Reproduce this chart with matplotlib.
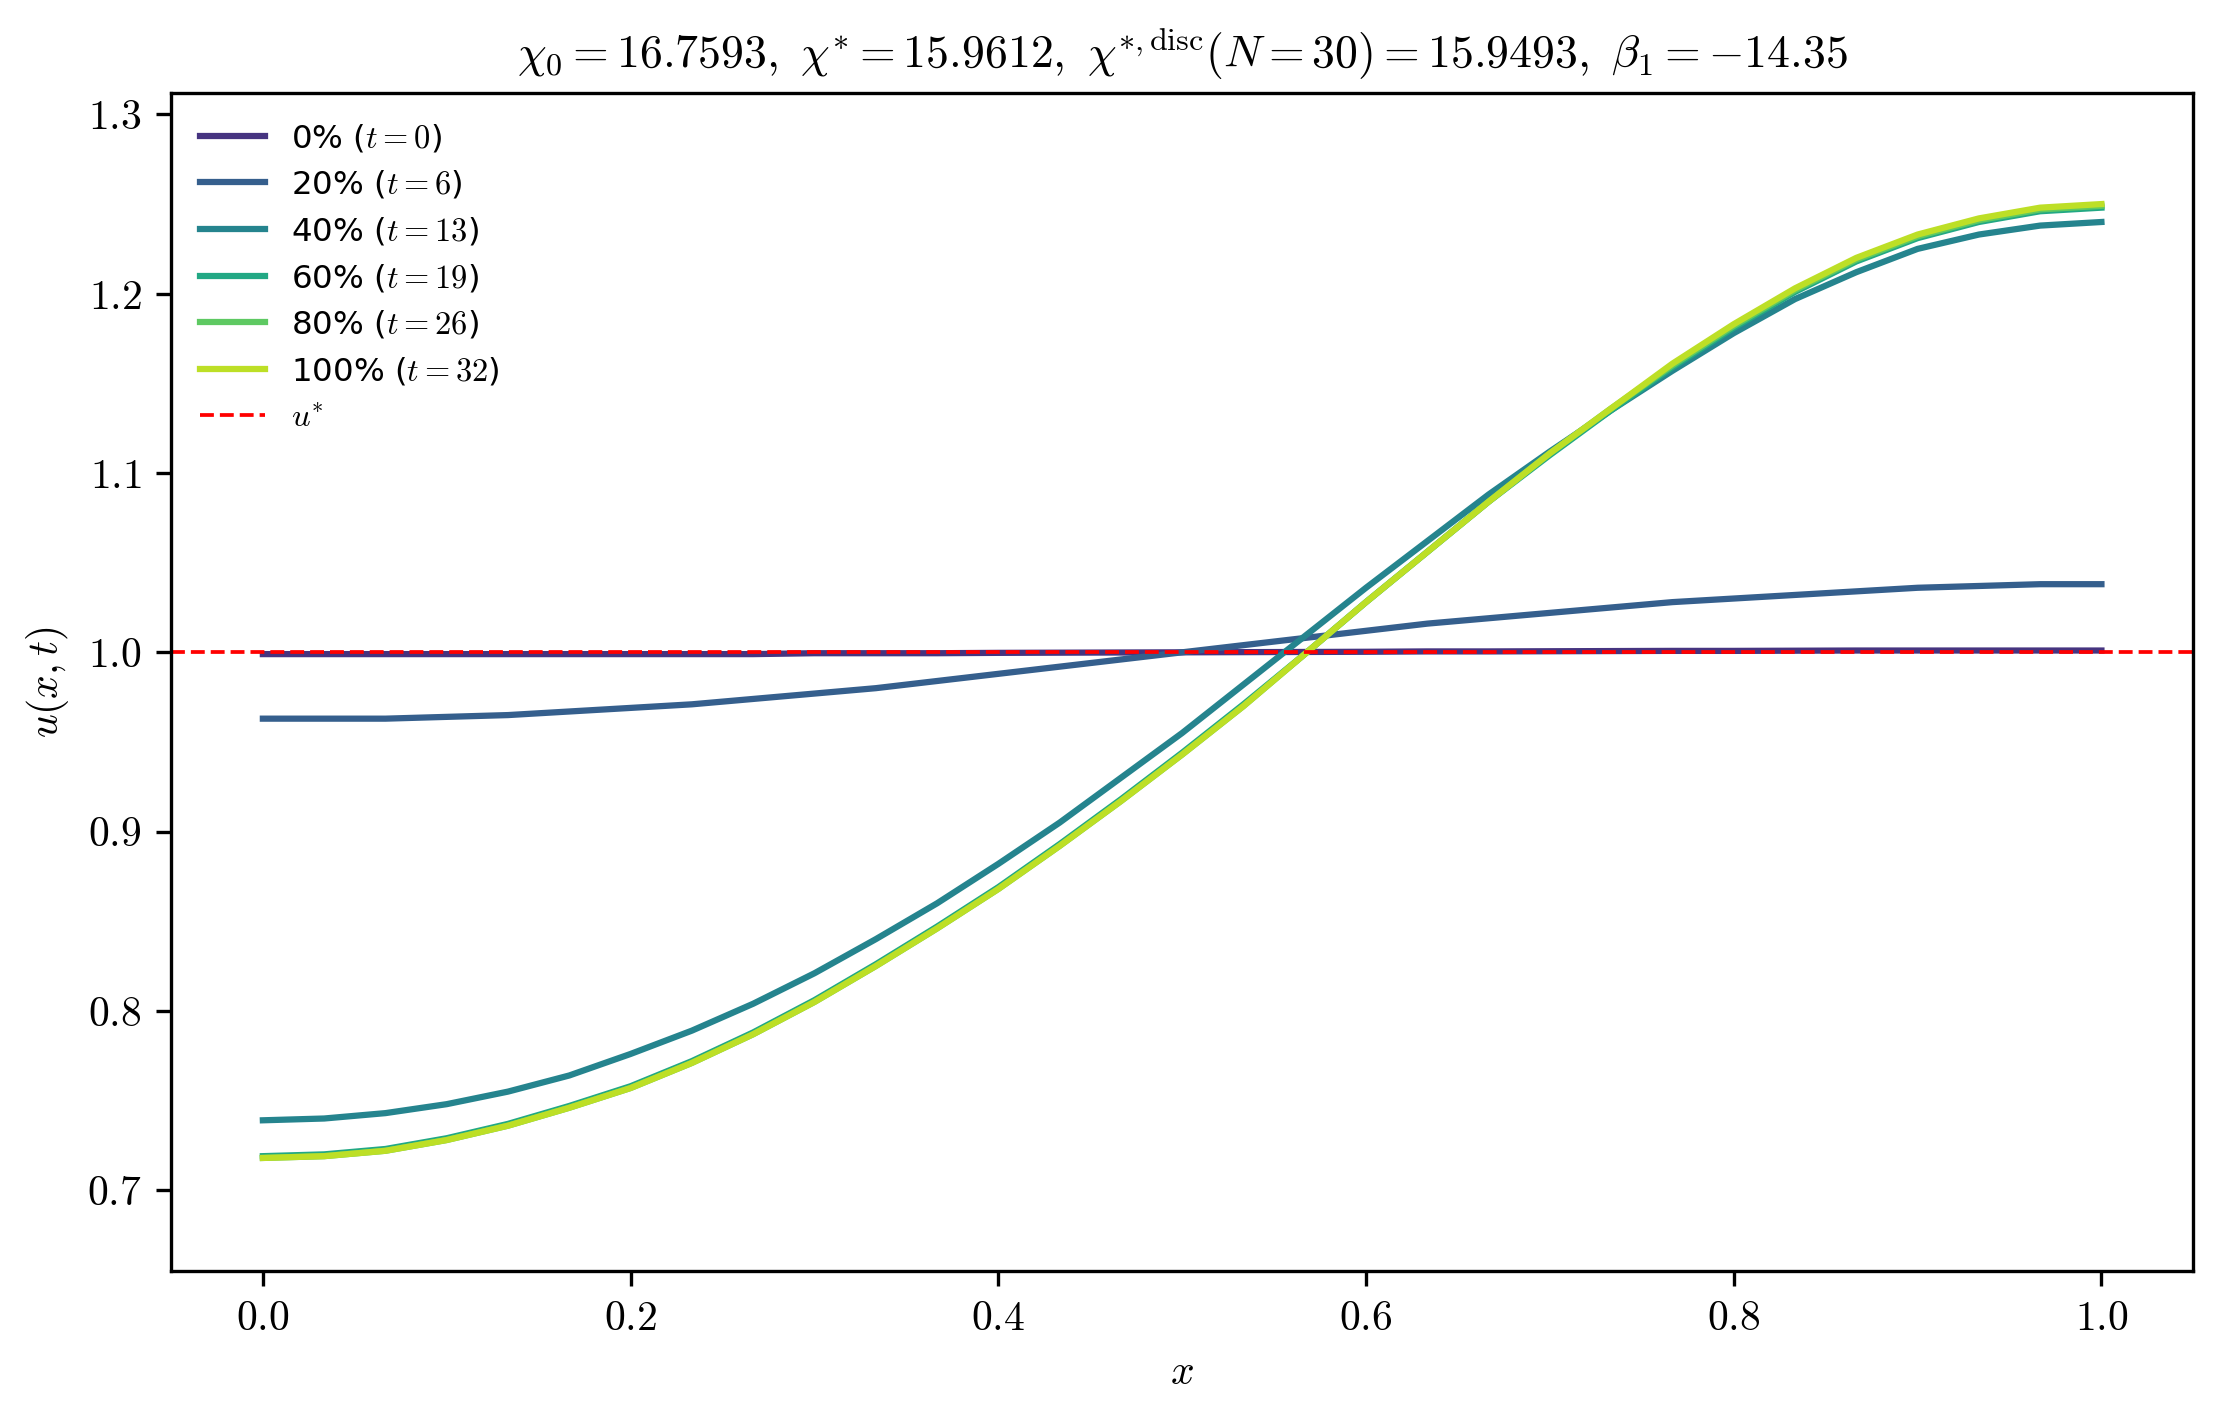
import numpy as np
import matplotlib
matplotlib.use("Agg")
import matplotlib.pyplot as plt

plt.rcParams["mathtext.fontset"] = "cm"
plt.rcParams["font.family"] = ["cmr10", "DejaVu Sans"]
plt.rcParams["axes.formatter.use_mathtext"] = True

N = 30
x = np.linspace(0.0, 1.0, N + 1)

u_0 = [0.999, 0.999, 0.999, 0.999, 0.999, 0.999, 0.999, 0.999, 0.999, 0.9995, 0.9995,
       0.9995, 0.9997, 0.9998, 0.9999, 1.000, 1.0001, 1.0002, 1.0003, 1.0005, 1.0005,
       1.0006, 1.0007, 1.0008, 1.0008, 1.0009, 1.001, 1.001, 1.001, 1.001, 1.001]
u_20 = [0.963, 0.963, 0.963, 0.964, 0.965, 0.967, 0.969, 0.971, 0.974, 0.977, 0.980,
        0.984, 0.988, 0.992, 0.996, 1.000, 1.004, 1.008, 1.012, 1.016, 1.019,
        1.022, 1.025, 1.028, 1.030, 1.032, 1.034, 1.036, 1.037, 1.038, 1.038]
u_40 = [0.739, 0.740, 0.743, 0.748, 0.755, 0.764, 0.776, 0.789, 0.804, 0.821, 0.840,
        0.860, 0.882, 0.905, 0.930, 0.955, 0.982, 1.009, 1.036, 1.062, 1.088,
        1.112, 1.135, 1.157, 1.178, 1.197, 1.212, 1.225, 1.233, 1.238, 1.240]
u_60 = [0.719, 0.720, 0.723, 0.729, 0.737, 0.747, 0.758, 0.772, 0.788, 0.806, 0.826,
        0.847, 0.869, 0.893, 0.918, 0.944, 0.971, 0.999, 1.028, 1.056, 1.084,
        1.110, 1.135, 1.159, 1.181, 1.201, 1.218, 1.231, 1.240, 1.246, 1.248]
u_80 = [0.718, 0.719, 0.722, 0.728, 0.736, 0.746, 0.757, 0.771, 0.787, 0.805, 0.825,
        0.846, 0.868, 0.892, 0.917, 0.943, 0.970, 0.999, 1.028, 1.056, 1.084,
        1.111, 1.136, 1.160, 1.182, 1.202, 1.219, 1.232, 1.241, 1.247, 1.249]
u_100 = [0.718, 0.719, 0.722, 0.728, 0.736, 0.746, 0.757, 0.771, 0.787, 0.805, 0.825,
         0.846, 0.868, 0.892, 0.917, 0.943, 0.970, 0.999, 1.028, 1.056, 1.084,
         1.111, 1.136, 1.161, 1.183, 1.203, 1.220, 1.233, 1.242, 1.248, 1.250]

percents = [0, 20, 40, 60, 80, 100]
times = [0, 6, 13, 19, 26, 32]
profiles = [u_0, u_20, u_40, u_60, u_80, u_100]
u_star = 1.0

colours = plt.cm.viridis(np.linspace(0.15, 0.9, len(profiles)))

fig, ax = plt.subplots(figsize=(7.4, 4.697), dpi=300)
for p, t, u, c in zip(percents, times, profiles, colours):
    ax.plot(x, u, color=c, lw=1.5, label=f"{p}% ($t = {t}$)")
ax.axhline(u_star, color="red", ls="--", lw=0.9, label="$u^{*}$")

ax.set_xlim(-0.05, 1.05)
ax.set_ylim(0.655, 1.312)
ax.set_xlabel("$x$")
ax.set_ylabel("$u(x,t)$")
ax.set_title(r"$\chi_0 = 16.7593,\ \chi^{*} = 15.9612,\ \chi^{*,\mathrm{disc}}(N = 30) = 15.9493,\ \beta_1 = -14.35$",
             fontsize=11)
leg = ax.legend(loc="upper left", frameon=False, fontsize=7.8, labelspacing=0.45)
for txt in leg.get_texts():
    txt.set_fontfamily(["DejaVu Sans"])

fig.subplots_adjust(left=0.077, right=0.988, top=0.934, bottom=0.098)
fig.savefig("out.png", dpi=300)
